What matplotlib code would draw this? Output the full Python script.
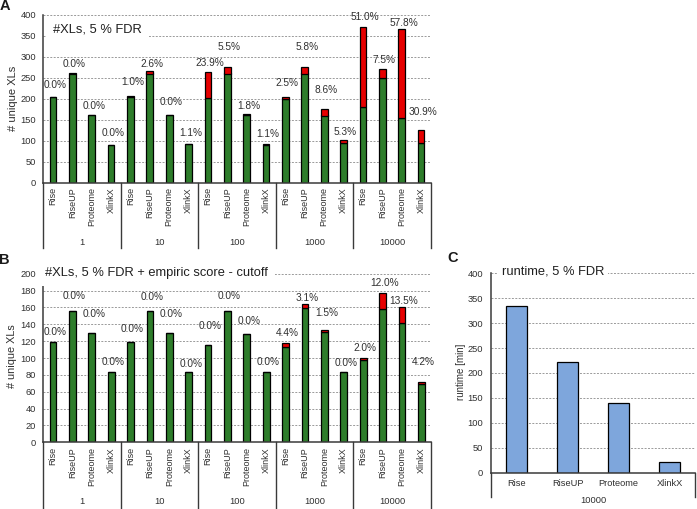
import matplotlib
matplotlib.use('Agg')
import matplotlib.pyplot as plt
from matplotlib.transforms import blended_transform_factory

plt.rcParams['font.family'] = ['Liberation Sans', 'DejaVu Sans']

W, H = 697, 509

groups = ['1', '10', '100', '1000', '10000']
tools = ['Rise', 'RiseUP', 'Proteome', 'XlinkX']

# panel A: unique XLs at 5 % FDR (green = true part, red = false part)
a_green = [[204, 260, 161, 90], [204, 260, 161, 91], [201, 260, 161, 90],
           [199, 260, 160, 95], [181, 249, 155, 94]]
a_red = [[0, 0, 0, 0], [2, 7, 0, 1], [63, 15, 3, 1],
         [5, 16, 16, 6], [189, 21, 212, 31]]
a_pct = [['0.0%', '0.0%', '0.0%', '0.0%'], ['1.0%', '2.6%', '0.0%', '1.1%'],
         ['23.9%', '5.5%', '1.8%', '1.1%'], ['2.5%', '5.8%', '8.6%', '5.3%'],
         ['51.0%', '7.5%', '57.8%', '30.9%']]

# panel B: unique XLs at 5 % FDR + empiric score cutoff
b_green = [[119, 156, 130, 83], [119, 156, 130, 83], [116, 156, 129, 83],
           [113, 159, 131, 83], [98, 158, 141, 69]]
b_red = [[0, 0, 0, 0], [0, 0, 0, 0], [0, 0, 0, 0],
         [5, 5, 2, 0], [2, 19, 19, 3]]
b_pct = [['0.0%', '0.0%', '0.0%', '0.0%'], ['0.0%', '0.0%', '0.0%', '0.0%'],
         ['0.0%', '0.0%', '0.0%', '0.0%'], ['4.4%', '3.1%', '1.5%', '0.0%'],
         ['2.0%', '12.0%', '13.5%', '4.2%']]

# panel C: runtime at 10000
c_tools = tools
c_group = '10000'
c_runtime = [334, 221, 140, 22]

# how far each percentage label sits above its bar (layout only)
a_lift = [[29, 22, 22, 29], [34, 15, 32, 27], [22, 47, 19, 25],
          [33, 47, 45, 19], [24, 22, 14, 44]]
b_lift = [[12, 17.5, 22, 12.6], [15, 16, 22, 10], [22, 17.5, 15, 12.6],
          [12, 7.5, 20.7, 10.7], [12, 12, 8, 23]]

GREEN = '#2e7d2b'
RED = '#e60000'
BLUE = '#7ea6dc'
AXIS = '#3a3a3a'
GRID = '#9a9a9a'
TXT = '#303030'


def fx(px):
    return px / W


def fy(py):
    return 1 - py / H


def px_axes(fig, left, top, right, bottom):
    return fig.add_axes([fx(left), fy(bottom), (right - left) / W, (bottom - top) / H])


def style_axes(ax, ymax, ystep, pad):
    ax.set_ylim(0, ymax)
    ax.set_yticks(range(0, ymax + 1, ystep))
    ax.yaxis.grid(True, ls=(0, (2, 1.5)), color=GRID, lw=0.7)
    ax.set_axisbelow(True)
    for s in ['top', 'right']:
        ax.spines[s].set_visible(False)
    for s in ['left', 'bottom']:
        ax.spines[s].set_color(AXIS)
        ax.spines[s].set_linewidth(1.1)
    ax.tick_params(axis='y', length=0, pad=pad, labelsize=6.7, labelcolor=TXT)
    ax.tick_params(axis='x', length=0, labelbottom=False)
    ax.set_xticks([])


def grouped_panel(fig, box, green, red, pct, lift, ymax, ystep,
                  cat_top, grp_y, line_bottom):
    left, top, right, bottom = box
    ax = px_axes(fig, left, top, right, bottom)
    style_axes(ax, ymax, ystep, 5.2)
    n = len(groups) * len(tools)
    ax.set_xlim(-0.5, n - 0.5)
    xs = list(range(n))
    g_flat = [v for row in green for v in row]
    r_flat = [v for row in red for v in row]
    p_flat = [v for row in pct for v in row]
    l_flat = [v for row in lift for v in row]
    ax.bar(xs, g_flat, 0.35, color=GREEN, edgecolor='black', lw=0.9, zorder=2)
    ax.bar(xs, r_flat, 0.35, bottom=g_flat, color=RED, edgecolor='black', lw=0.9, zorder=2)
    for x, g, r, p, l in zip(xs, g_flat, r_flat, p_flat, l_flat):
        ax.text(x + 0.1, g + r + l, p, ha='center', va='center', fontsize=7.3, color=TXT)

    trans = blended_transform_factory(ax.transData, fig.transFigure)
    for i in range(n):
        ax.text(i, fy(cat_top), tools[i % 4], rotation=90, ha='center', va='top',
                fontsize=6.5, color=TXT, transform=trans)
    for gi, g in enumerate(groups):
        ax.text(gi * 4 + 1.5, fy(grp_y), g, ha='center', va='center',
                fontsize=6.7, color=TXT, transform=trans)
    for b in range(len(groups) + 1):
        xb = b * 4 - 0.5
        ax.plot([xb, xb], [fy(bottom), fy(line_bottom)], color=AXIS, lw=1.0,
                transform=trans, clip_on=False)
    return ax


fig = plt.figure(figsize=(W / 100, H / 100), dpi=100)

# A
grouped_panel(fig, (43.3, 14.7, 430.7, 182.7), a_green, a_red, a_pct, a_lift,
              400, 50, 187, 243, 248)
fig.text(fx(53.3), fy(30), '#XLs, 5 % FDR', ha='left', va='center', fontsize=9.3,
         color='#1f1f1f', bbox=dict(fc='white', ec='none', pad=5))
fig.text(fx(13), fy(98), '# unique XLs', rotation=90, ha='center', va='center',
         fontsize=8, color=TXT)

# B
grouped_panel(fig, (43.3, 273.7, 431, 442.3), b_green, b_red, b_pct, b_lift,
              200, 20, 447, 501.7, 509)
fig.text(fx(45), fy(273.3), '#XLs, 5 % FDR + empiric score - cutoff', ha='left',
         va='center', fontsize=9.3, color='#1f1f1f', bbox=dict(fc='white', ec='none', pad=5))
fig.text(fx(12), fy(356), '# unique XLs', rotation=90, ha='center', va='center',
         fontsize=7.8, color=TXT)

# C
axc = px_axes(fig, 491.2, 273.3, 695, 472.5)
style_axes(axc, 400, 50, 5.8)
axc.set_xlim(-0.5, len(c_tools) - 0.5)
axc.bar(range(len(c_tools)), c_runtime, 0.41, color=BLUE, edgecolor='black', lw=0.9, zorder=2)
trans_c = blended_transform_factory(axc.transData, fig.transFigure)
for i, t in enumerate(c_tools):
    axc.text(i, fy(483.3), t, ha='center', va='center', fontsize=6.7, color=TXT,
             transform=trans_c)
axc.text((len(c_tools) - 1) / 2, fy(500.7), c_group, ha='center', va='center',
         fontsize=6.7, color=TXT, transform=trans_c)
for xb in [-0.5, len(c_tools) - 0.5]:
    axc.plot([xb, xb], [fy(472.5), fy(497)], color=AXIS, lw=1.0,
             transform=trans_c, clip_on=False)
fig.text(fx(501.7), fy(271.7), 'runtime, 5 % FDR', ha='left', va='center', fontsize=9.3,
         color='#1f1f1f', bbox=dict(fc='white', ec='none', pad=3))
fig.text(fx(460.7), fy(372), 'runtime [min]', rotation=90, ha='center', va='center',
         fontsize=7, color=TXT)

# panel letters
for letter, x, y in [('A', 5, 6), ('B', 4, 260), ('C', 453, 258)]:
    fig.text(fx(x), fy(y), letter, ha='center', va='center', fontsize=10.5,
             fontweight='bold', color='#1a1a1a')

fig.savefig('out.png', dpi=100)
